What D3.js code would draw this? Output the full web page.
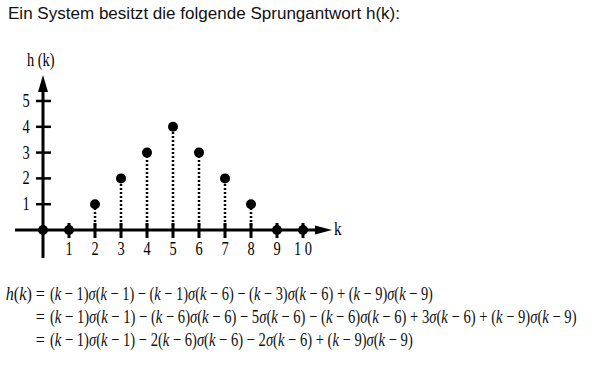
<!DOCTYPE html>
<html>
<head>
<meta charset="utf-8">
<script src="https://cdn.jsdelivr.net/npm/d3@7"></script>
<style>
  body { margin: 0; background: #fff; }
  svg { display: block; }
</style>
</head>
<body>
<div id="chart"></div>
<script>
// step response h(k)
const kValues = [0, 1, 2, 3, 4, 5, 6, 7, 8, 9, 10];
const hValues = [0, 0, 1, 2, 3, 4, 3, 2, 1, 0, 0];
const xTicks = [1, 2, 3, 4, 5, 6, 7, 8, 9, 10];
const yTicks = [1, 2, 3, 4, 5];

const titleText = "Ein System besitzt die folgende Sprungantwort h(k):";
const formulaLead = ["h(k) =", "=", "="];
const formulaLines = [
    "(k − 1)σ(k − 1) − (k − 1)σ(k − 6) − (k − 3)σ(k − 6) + (k − 9)σ(k − 9)",
    "(k − 1)σ(k − 1) − (k − 6)σ(k − 6) − 5σ(k − 6) − (k − 6)σ(k − 6) + 3σ(k − 6) + (k − 9)σ(k − 9)",
    "(k − 1)σ(k − 1) − 2(k − 6)σ(k − 6) − 2σ(k − 6) + (k − 9)σ(k − 9)"
];
const formulaEnds = [433, 577, 413];

const width = 608;
const height = 371;

const svg = d3.select("#chart")
    .append("svg")
    .attr("width", width)
    .attr("height", height);

svg.append("text")
    .attr("x", 8)
    .attr("y", 19)
    .attr("font-family", "Liberation Sans, Arial, sans-serif")
    .attr("font-size", 16)
    .attr("fill", "#111")
    .attr("textLength", 392)
    .attr("lengthAdjust", "spacingAndGlyphs")
    .text(titleText);

const x = d3.scaleLinear().domain([0, 10]).range([43, 303]);
const y = d3.scaleLinear().domain([0, 5]).range([230, 101]);

const serif = "Liberation Serif, Times New Roman, serif";
const g = svg.append("g");

// axes
g.append("line")
    .attr("x1", x(0)).attr("x2", x(0))
    .attr("y1", 258).attr("y2", 90)
    .attr("stroke", "#000").attr("stroke-width", 3);
g.append("path")
    .attr("d", `M${x(0)},75 L${x(0) - 5},92 L${x(0) + 5},92 Z`)
    .attr("fill", "#000");

g.append("line")
    .attr("x1", 15).attr("x2", 318)
    .attr("y1", y(0)).attr("y2", y(0))
    .attr("stroke", "#000").attr("stroke-width", 3);
g.append("path")
    .attr("d", `M332,${y(0)} L315,${y(0) - 4.5} L315,${y(0) + 4.5} Z`)
    .attr("fill", "#000");

// ticks
g.selectAll("line.xtick")
    .data(xTicks)
    .join("line")
    .attr("class", "xtick")
    .attr("x1", d => x(d)).attr("x2", d => x(d))
    .attr("y1", y(0) - 7).attr("y2", y(0) + 8)
    .attr("stroke", "#000").attr("stroke-width", 3);

g.selectAll("line.ytick")
    .data(yTicks)
    .join("line")
    .attr("class", "ytick")
    .attr("x1", x(0) - 7).attr("x2", x(0) + 8)
    .attr("y1", d => y(d)).attr("y2", d => y(d))
    .attr("stroke", "#000").attr("stroke-width", 2.5);

g.selectAll("text.xlab")
    .data(xTicks)
    .join("text")
    .attr("class", "xlab")
    .attr("x", d => x(d))
    .attr("y", 255)
    .attr("text-anchor", "middle")
    .attr("font-family", serif)
    .attr("font-size", 18)
    .attr("transform", d => `translate(${x(d)},0) scale(0.8,1) translate(${-x(d)},0)`)
    .text(d => d === 10 ? "1 0" : d);

g.selectAll("text.ylab")
    .data(yTicks)
    .join("text")
    .attr("class", "ylab")
    .attr("x", 26)
    .attr("y", d => y(d) + 6)
    .attr("text-anchor", "middle")
    .attr("font-family", serif)
    .attr("font-size", 18)
    .attr("transform", "translate(26,0) scale(0.8,1) translate(-26,0)")
    .text(d => d);

g.append("text")
    .attr("x", 27).attr("y", 66)
    .attr("font-family", serif)
    .attr("font-size", 18)
    .attr("transform", "translate(27,0) scale(0.8,1) translate(-27,0)")
    .text("h (k)");

g.append("text")
    .attr("x", 334).attr("y", y(0) + 5)
    .attr("font-family", serif)
    .attr("font-size", 19)
    .attr("transform", "translate(334,0) scale(0.8,1) translate(-334,0)")
    .text("k");

// stems and dots
const pts = kValues.map((k, i) => ({ k, h: hValues[i] }));

g.selectAll("line.stem")
    .data(pts.filter(d => d.h > 0))
    .join("line")
    .attr("class", "stem")
    .attr("x1", d => x(d.k)).attr("x2", d => x(d.k))
    .attr("y1", y(0)).attr("y2", d => y(d.h))
    .attr("stroke", "#000").attr("stroke-width", 2.5)
    .attr("stroke-dasharray", "2,2");

g.selectAll("circle.dot")
    .data(pts)
    .join("circle")
    .attr("class", "dot")
    .attr("cx", d => x(d.k))
    .attr("cy", d => y(d.h))
    .attr("r", 5)
    .attr("fill", "#000");

// formula
function addMath(sel, str) {
    const parts = str.split(/([khσ])/).filter(s => s.length);
    parts.forEach(p => {
        sel.append("tspan")
            .attr("font-style", /^[khσ]$/.test(p) ? "italic" : "normal")
            .text(p);
    });
}

const fy = [300, 323, 346];
formulaLines.forEach((line, i) => {
    const lead = svg.append("text")
        .attr("x", 45)
        .attr("y", fy[i])
        .attr("text-anchor", "end")
        .attr("font-family", serif)
        .attr("font-size", 18)
        .attr("fill", "#111")
        .attr("transform", "translate(45,0) scale(0.9,1) translate(-45,0)");
    addMath(lead, formulaLead[i]);

    const t = svg.append("text")
        .attr("x", 50)
        .attr("y", fy[i])
        .attr("font-family", serif)
        .attr("font-size", 19)
        .attr("fill", "#111");
    addMath(t, line);

    // squeeze horizontally to reach the reference line end
    const natural = t.node().getComputedTextLength();
    const sx = (formulaEnds[i] - 50) / natural;
    t.attr("transform", `translate(50,0) scale(${sx},1) translate(-50,0)`);
});
</script>
</body>
</html>
